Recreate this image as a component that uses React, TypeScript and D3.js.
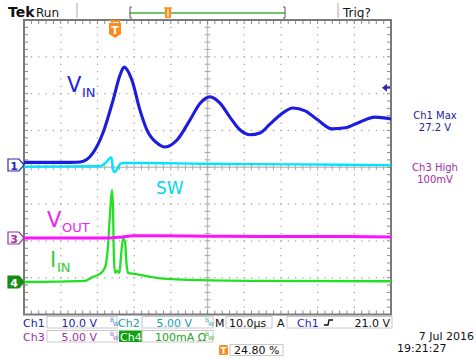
import React from "react";
import * as d3 from "d3";

// ---- data (time in µs relative to trigger) ----
const vinT = [-24.8, -12, -9.5, -6.0, -3.3, -0.5, 1.4, 2.45, 4.6, 6.8, 8.7, 11.4, 13.6, 16.9, 20.4, 23.2, 25.9, 28.6, 31.3, 34.1, 36.8, 39.5, 42.2, 45.0, 48.5, 51.8, 55.3, 59.1, 62.7, 66.8, 70.8, 75.2];
const vinV = [0.7, 0.7, 0.8, 3.3, 8.7, 17.7, 24.5, 26.6, 23.1, 14.9, 9.5, 6.0, 4.9, 6.8, 12.2, 16.8, 18.5, 16.8, 13.0, 9.5, 8.2, 8.7, 11.1, 13.6, 15.5, 14.7, 12.2, 9.8, 10.1, 11.7, 13.0, 12.5];

const swT = [-24.8, -4.1, -2.5, -1.4, -0.96, -0.55, -0.14, 0.54, 1.36, 2.18, 6.8, 23.2, 50.4, 75.2];
const swV = [0.05, 0.1, 0.6, 1.2, 1.3, -0.3, -0.7, -0.3, 0.4, 0.55, 0.55, 0.45, 0.35, 0.25];

const voutT = [-24.8, -2.0, 2.0, 5.0, 12.0, 25.0, 40.0, 60.0, 75.2];
const voutV = [0.0, 0.0, 0.15, 0.3, 0.3, 0.25, 0.2, 0.2, 0.15];

const iinT = [-24.8, -8.2, -6.0, -4.1, -2.7, -1.9, -1.4, -0.82, -0.55, -0.28, 0.0, 0.54, 1.22, 1.63, 2.18, 2.72, 3.13, 3.54, 5.4, 12.3, 23.2, 40, 75.2];
const iinA = [0, 3, 14, 22, 40, 100, 180, 250, 200, 60, 25, 30, 25, 70, 118, 110, 50, 25, 22, 10, 5, 3, 2];

const ch1Scale = 10.0; // V/div
const ch2Scale = 5.0;
const ch3Scale = 5.0;
const ch4Scale = 100; // mA/div
const timeScale = 10.0; // µs/div
const trigPosPct = 24.8;
const trigLevel = 21.0;
const ch1Max = "27.2 V";
const ch3High = "100mV";

// ---- layout ----
const W = 476, H = 359;
const L = 24, R = 391, T = 20, B = 314.5;
const DX = (R - L) / 10;
const DY = (B - T) / 8;
const t0 = -trigPosPct / 10 * timeScale;
const x = d3.scaleLinear().domain([t0, t0 + 10 * timeScale]).range([L, R]);
const ch1Gnd = 165, ch2Gnd = 167, ch3Gnd = 238, ch4Gnd = 282;
const y1 = d3.scaleLinear().domain([0, ch1Scale]).range([ch1Gnd, ch1Gnd - DY]);
const y2 = d3.scaleLinear().domain([0, ch2Scale]).range([ch2Gnd, ch2Gnd - DY]);
const y3 = d3.scaleLinear().domain([0, ch3Scale]).range([ch3Gnd, ch3Gnd - DY]);
const y4 = d3.scaleLinear().domain([0, ch4Scale]).range([ch4Gnd, ch4Gnd - DY]);

const FONT = "'DejaVu Sans', Verdana, sans-serif";

function path(ts: number[], vs: number[], ys: d3.ScaleLinear<number, number>) {
  const g = d3.line<number>().x((d, i) => x(ts[i])).y((d, i) => ys(vs[i])).curve(d3.curveMonotoneX);
  return g(vs) || "";
}

function Grid() {
  const els: React.ReactNode[] = [];
  for (let i = 1; i < 10; i++) {
    if (i === 5) continue;
    const gx = L + i * DX;
    for (let k = 1; k < 40; k++) {
      els.push(<rect key={`v${i}-${k}`} x={gx - 0.5} y={T + k * DY / 5 - 0.5} width={1.2} height={1.2} fill="#9a9a9a" />);
    }
  }
  for (let j = 1; j < 8; j++) {
    if (j === 4) continue;
    const gy = T + j * DY;
    for (let k = 1; k < 50; k++) {
      els.push(<rect key={`h${j}-${k}`} x={L + k * DX / 5 - 0.5} y={gy - 0.5} width={1.2} height={1.2} fill="#9a9a9a" />);
    }
  }
  const cx = L + 5 * DX, cy = T + 4 * DY;
  els.push(<line key="cxl" x1={cx} x2={cx} y1={T} y2={B} stroke="#c4c4c4" strokeWidth={1.5} />);
  els.push(<line key="cyl" x1={L} x2={R} y1={cy} y2={cy} stroke="#c4c4c4" strokeWidth={1.5} />);
  for (let k = 1; k < 40; k++) {
    const ty = T + k * DY / 5;
    els.push(<line key={`ct${k}`} x1={cx - 3} x2={cx + 3} y1={ty} y2={ty} stroke="#a8a8a8" strokeWidth={1} />);
    els.push(<line key={`lt${k}`} x1={L} x2={L + 4} y1={ty} y2={ty} stroke="#888" strokeWidth={1} />);
    els.push(<line key={`rt${k}`} x1={R - 4} x2={R} y1={ty} y2={ty} stroke="#888" strokeWidth={1} />);
  }
  for (let k = 1; k < 50; k++) {
    const tx = L + k * DX / 5;
    els.push(<line key={`cht${k}`} x1={tx} x2={tx} y1={cy - 3} y2={cy + 3} stroke="#a8a8a8" strokeWidth={1} />);
    els.push(<line key={`tt${k}`} x1={tx} x2={tx} y1={T} y2={T + 4} stroke="#888" strokeWidth={1} />);
    els.push(<line key={`bt${k}`} x1={tx} x2={tx} y1={B - 4} y2={B} stroke="#888" strokeWidth={1} />);
  }
  els.push(<rect key="frame" x={L} y={T} width={R - L} height={B - T} fill="none" stroke="#7a7a7a" strokeWidth={2} />);
  return <g>{els}</g>;
}

function Marker({ y, label, stroke, fill, textFill }: { y: number; label: string; stroke: string; fill: string; textFill: string }) {
  const p = `M8,${y - 6} L19,${y - 6} L24,${y} L19,${y + 6} L8,${y + 6} Z`;
  return (
    <g>
      <path d={p} fill={fill} stroke={stroke} strokeWidth={1.2} />
      <text x={14} y={y + 4.5} fontFamily={FONT} fontSize={11} fontWeight="bold" fill={textFill} textAnchor="middle">{label}</text>
    </g>
  );
}

function Box({ x0, y0, w, h }: { x0: number; y0: number; w: number; h: number }) {
  return <rect x={x0} y={y0} width={w} height={h} fill="#fff" stroke="#c8c8c8" strokeWidth={1} />;
}

function BW({ x0, y0, color }: { x0: number; y0: number; color: string }) {
  return (
    <g fontFamily={FONT} fontSize={6} fill={color}>
      <text x={x0} y={y0}>B</text>
      <text x={x0 + 3} y={y0 + 4}>W</text>
    </g>
  );
}

export default function App() {
  const trigX = x(0);
  const trigY = y1(trigLevel);
  const navy = "#23239a";
  const teal = "#1aa0a8";
  const purple = "#a22ea2";
  const green = "#22a022";
  return (
    <svg width={W} height={H} style={{ position: "absolute", left: 0, top: 0, background: "#fff" }}>
      <rect x={0} y={0} width={W} height={H} fill="#fff" />
      <text x={8} y={17} fontFamily={FONT} fontSize={14} fontWeight="bold" fill="#111">Tek</text>
      <text x={36} y={17} fontFamily={FONT} fontSize={12} fill="#111">Run</text>
      <line x1={77} x2={77} y1={3} y2={18} stroke="#aaa" strokeWidth={1} />
      <line x1={338} x2={338} y1={3} y2={18} stroke="#aaa" strokeWidth={1} />
      <text x={343} y={17} fontFamily={FONT} fontSize={12} fill="#111">Trig?</text>
      <line x1={130} x2={285} y1={13} y2={13} stroke="#6cc76c" strokeWidth={2} />
      <path d="M132,7 L130,7 L130,18 L132,18" fill="none" stroke="#555" strokeWidth={1} />
      <path d="M283,7 L285,7 L285,18 L283,18" fill="none" stroke="#555" strokeWidth={1} />
      <g>
        <rect x={165} y={8} width={6} height={10} fill="#ff8a1a" rx={1} />
        <line x1={164} x2={172} y1={8} y2={8} stroke="#ff8a1a" strokeWidth={1.5} />
        <line x1={168} x2={168} y1={9} y2={17} stroke="#fff" strokeWidth={1.2} />
      </g>

      <Grid />

      <path d={path(iinT, iinA, y4)} fill="none" stroke="#22e022" strokeWidth={2.3} strokeLinejoin="round" />
      <path d={path(voutT, voutV, y3)} fill="none" stroke="#ff10ff" strokeWidth={3} />
      <path d={path(swT, swV, y2)} fill="none" stroke="#00e4ff" strokeWidth={2.4} strokeLinejoin="round" />
      <path d={path(vinT, vinV, y1)} fill="none" stroke="#1c1ce0" strokeWidth={3.1} strokeLinejoin="round" />

      <text x={67} y={92} fontFamily={FONT} fontSize={21} fill="#2222dd">V</text>
      <text x={82} y={97} fontFamily={FONT} fontSize={13} fill="#2222dd">IN</text>
      <text x={156} y={194} fontFamily={FONT} fontSize={17} fill="#00d8f0">SW</text>
      <text x={47} y={227} fontFamily={FONT} fontSize={21} fill="#ee22ee">V</text>
      <text x={62} y={232} fontFamily={FONT} fontSize={13} fill="#ee22ee">OUT</text>
      <text x={50} y={267} fontFamily={FONT} fontSize={21} fill="#33cc33">I</text>
      <text x={57} y={272} fontFamily={FONT} fontSize={13} fill="#33cc33">IN</text>

      <Marker y={ch1Gnd} label="1" stroke="#2a2ab0" fill="#fff" textFill="#2a2ab0" />
      <Marker y={ch3Gnd} label="3" stroke="#a030a0" fill="#fff" textFill="#a030a0" />
      <Marker y={ch4Gnd} label="4" stroke="#1a8a1a" fill="#1a8a1a" textFill="#fff" />

      <path d={`M${trigX - 6},${T} L${trigX + 6},${T} L${trigX + 4},${T + 2} L${trigX - 4},${T + 2} Z`} fill="#ff8a1a" />
      <path d={`M${trigX - 6},${T + 3} L${trigX + 6},${T + 3} L${trigX + 6},${T + 14} L${trigX},${T + 18} L${trigX - 6},${T + 14} Z`} fill="#ff8a1a" />
      <text x={trigX} y={T + 14} fontFamily={FONT} fontSize={11} fontWeight="bold" fill="#fff" textAnchor="middle">T</text>
      <path d={`M${R - 9},${trigY} L${R - 4},${trigY - 4} L${R - 4},${trigY + 4} Z`} fill="#2a2ab0" />
      <line x1={R - 5} x2={R - 1} y1={trigY} y2={trigY} stroke="#2a2ab0" strokeWidth={2} />

      <g fontFamily={FONT} fontSize={10} textAnchor="middle">
        <text x={435} y={119} fill={navy}>Ch1 Max</text>
        <text x={435} y={131} fill={navy}>{ch1Max}</text>
        <text x={435} y={171} fill={purple}>Ch3 High</text>
        <text x={435} y={183} fill={purple}>{ch3High}</text>
      </g>

      <g fontFamily={FONT} fontSize={11}>
        <text x={23} y={327} fill={navy}>Ch1</text>
        <Box x0={47} y0={316.5} w={70} h={11.5} />
        <text x={97} y={327} fill={navy} textAnchor="end">{ch1Scale.toFixed(1)} V</text>
        <BW x0={110} y0={322} color="#4a8ac8" />
        <text x={118} y={327} fill={teal}>Ch2</text>
        <Box x0={142} y0={316.5} w={71} h={11.5} />
        <text x={192} y={327} fill={teal} textAnchor="end">{ch2Scale.toFixed(2)} V</text>
        <BW x0={205} y0={322} color="#4ab0a8" />
        <text x={215} y={327} fill="#111">M</text>
        <Box x0={226} y0={316.5} w={46} h={11.5} />
        <text x={229} y={327} fill="#111">{timeScale.toFixed(1)}µs</text>
        <text x={277} y={327} fill="#111">A</text>
        <Box x0={287} y0={316.5} w={105} h={11.5} />
        <text x={297} y={327} fill="#2a2ab0">Ch1</text>
        <path d="M324,325 L328,325 L329,320 L333,320" fill="none" stroke="#111" strokeWidth={1.3} />
        <text x={390} y={327} fill="#111" textAnchor="end">{trigLevel.toFixed(1)} V</text>

        <text x={23} y={341} fill={purple}>Ch3</text>
        <Box x0={47} y0={330.5} w={70} h={11.5} />
        <text x={97} y={341} fill={purple} textAnchor="end">{ch3Scale.toFixed(2)} V</text>
        <BW x0={110} y0={336} color="#9a6ac8" />
        <rect x={119} y={330.5} width={23} height={11.5} fill="#10a010" />
        <text x={120} y={341} fill="#fff">Ch4</text>
        <Box x0={142} y0={330.5} w={71} h={11.5} />
        <text x={155} y={341} fill={green}>{ch4Scale}mA Ω</text>
        <BW x0={205} y0={336} color="#5aa84a" />

        <rect x={219} y={345} width={9} height={10} fill="#ff8a1a" rx={1.5} />
        <text x={223.5} y={353.5} fill="#fff" fontSize={9} fontWeight="bold" textAnchor="middle">T</text>
        <Box x0={230} y0={344.5} w={53} h={11} />
        <text x={234} y={354} fill="#111">{trigPosPct.toFixed(2)} %</text>

        <text x={474} y={340} fill="#111" textAnchor="end">7 Jul  2016</text>
        <text x={397} y={352} fill="#111">19:21:27</text>
      </g>
    </svg>
  );
}
